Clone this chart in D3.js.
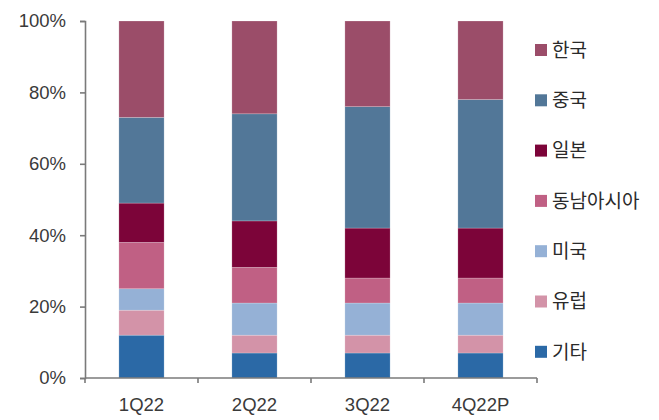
<!DOCTYPE html>
<html>
<head>
<meta charset="utf-8">
<script src="https://cdn.jsdelivr.net/npm/d3@7"></script>
<style>
  html, body { margin: 0; padding: 0; background: #fff; }
  svg { display: block; }
</style>
</head>
<body>
<svg id="chart" width="659" height="420"></svg>
<script>
// Quarterly share by region (%), stacked bottom to top
const quarters = ["1Q22", "2Q22", "3Q22", "4Q22P"];
const regions  = ["기타", "유럽", "미국", "동남아시아", "일본", "중국", "한국"];
const etc      = [12, 7, 7, 7];
const europe   = [7, 5, 5, 5];
const usa      = [6, 9, 9, 9];
const seAsia   = [13, 10, 7, 7];
const japan    = [11, 13, 14, 14];
const china    = [24, 30, 34, 36];
const korea    = [27, 26, 24, 22];
const yTicks   = [0, 20, 40, 60, 80, 100];

const colors = {
  "기타": "#2b69a6",
  "유럽": "#d393a8",
  "미국": "#95b1d6",
  "동남아시아": "#c06084",
  "일본": "#7c0439",
  "중국": "#527798",
  "한국": "#9b4d69"
};

const seriesValues = [etc, europe, usa, seAsia, japan, china, korea];
const rows = quarters.map((q, i) => {
  const r = { quarter: q };
  regions.forEach((name, k) => { r[name] = seriesValues[k][i]; });
  return r;
});

const svg = d3.select("#chart");
const plotLeft = 85, plotRight = 537, plotTop = 21, plotBottom = 378;

const x = d3.scaleBand().domain(quarters).range([plotLeft, plotRight]).paddingInner(0.6).paddingOuter(0.3);
const y = d3.scaleLinear().domain([0, 100]).range([plotBottom, plotTop]);

const stacked = d3.stack().keys(regions)(rows);

svg.append("g").selectAll("g")
  .data(stacked)
  .join("g")
  .attr("fill", d => colors[d.key])
  .selectAll("rect")
  .data(d => d)
  .join("rect")
  .attr("x", d => x(d.data.quarter))
  .attr("y", d => y(d[1]))
  .attr("width", x.bandwidth())
  .attr("height", d => y(d[0]) - y(d[1]))
  .attr("stroke", "#ffffff")
  .attr("stroke-opacity", 0.35)
  .attr("stroke-width", 0.6);

const labelFont = "'Liberation Sans', Arial, sans-serif";

// y axis
const yAxis = svg.append("g")
  .attr("transform", `translate(${plotLeft},0)`)
  .call(d3.axisLeft(y).tickValues(yTicks).tickFormat(d => d + "%").tickSize(5).tickPadding(14));
yAxis.select(".domain").attr("stroke", "#7a7a7a").attr("stroke-width", 1.6);
yAxis.selectAll(".tick line").attr("stroke", "#7a7a7a").attr("stroke-width", 1.6);
yAxis.selectAll("text")
  .attr("font-family", labelFont)
  .attr("font-size", 18.5)
  .attr("fill", "#3a3a3a");

// x axis with ticks at the band boundaries
const xAxis = svg.append("g").attr("transform", `translate(0,${plotBottom})`);
xAxis.append("line")
  .attr("x1", plotLeft).attr("x2", plotRight)
  .attr("stroke", "#7a7a7a").attr("stroke-width", 1.6);
const bounds = d3.range(quarters.length + 1)
  .map(i => plotLeft + i * (plotRight - plotLeft) / quarters.length);
xAxis.selectAll("line.tk")
  .data(bounds)
  .join("line")
  .attr("class", "tk")
  .attr("x1", d => d).attr("x2", d => d)
  .attr("y1", 0).attr("y2", 5)
  .attr("stroke", "#7a7a7a").attr("stroke-width", 1.6);
xAxis.selectAll("text")
  .data(quarters)
  .join("text")
  .attr("x", d => x(d) + x.bandwidth() / 2)
  .attr("y", 33)
  .attr("text-anchor", "middle")
  .attr("font-family", labelFont)
  .attr("font-size", 18.5)
  .attr("fill", "#3a3a3a")
  .text(d => d);

// legend, top entry is the top of the stack
const legendOrder = regions.slice().reverse();
const legend = svg.append("g").selectAll("g")
  .data(legendOrder)
  .join("g")
  .attr("transform", (d, i) => `translate(535,${50 + i * 50.3})`);
legend.append("rect")
  .attr("x", 0).attr("y", -6)
  .attr("width", 12).attr("height", 12)
  .attr("fill", d => colors[d]);
legend.append("text")
  .attr("x", 17).attr("y", 0)
  .attr("dy", "0.36em")
  .attr("font-family", "'Noto Sans CJK KR', sans-serif")
  .attr("font-size", 19)
  .attr("fill", "#2a2a2a")
  .text(d => d);
</script>
</body>
</html>
